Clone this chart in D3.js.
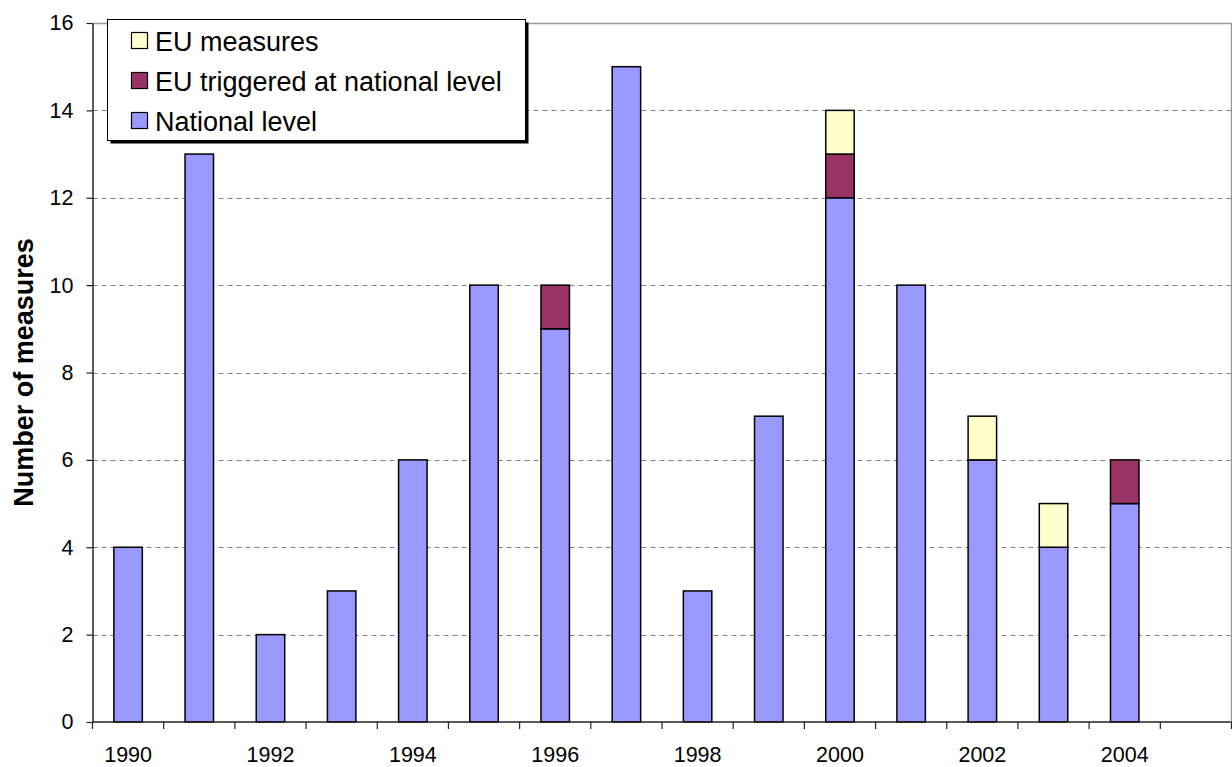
<!DOCTYPE html>
<html>
<head>
<meta charset="utf-8">
<script src="https://cdn.jsdelivr.net/npm/d3@7"></script>
<style>
  html, body { margin: 0; padding: 0; background: #fff; }
  svg { display: block; font-family: Arial, "Liberation Sans", sans-serif; }
</style>
</head>
<body>
<svg id="chart" width="1232" height="767"></svg>
<script>
// Measures adopted per year, split by origin
const years = [1990, 1991, 1992, 1993, 1994, 1995, 1996, 1997, 1998, 1999, 2000, 2001, 2002, 2003, 2004, 2005];
const nationalLevel = [4, 13, 2, 3, 6, 10, 9, 15, 3, 7, 12, 10, 6, 4, 5, 0];
const euTriggered   = [0, 0, 0, 0, 0, 0, 1, 0, 0, 0, 1, 0, 0, 0, 1, 0];
const euMeasures    = [0, 0, 0, 0, 0, 0, 0, 0, 0, 0, 1, 0, 1, 1, 0, 0];
const seriesNames = ["National level", "EU triggered at national level", "EU measures"];
const seriesColors = ["#9999FF", "#993366", "#FFFFCC"];
const yTicks = [0, 2, 4, 6, 8, 10, 12, 14, 16];
const xLabelYears = [1990, 1992, 1994, 1996, 1998, 2000, 2002, 2004];

const svg = d3.select("#chart");
const plotLeft = 92.5, plotRight = 1231.5, plotTop = 23, plotBottom = 722;
const tickFont = 21.5;

const rows = years.map((yr, i) => ({
  year: yr,
  [seriesNames[0]]: nationalLevel[i],
  [seriesNames[1]]: euTriggered[i],
  [seriesNames[2]]: euMeasures[i]
}));
const stacked = d3.stack().keys(seriesNames)(rows);

const x = d3.scaleBand().domain(years).range([plotLeft, plotRight]).paddingInner(0.6).paddingOuter(0.3);
const y = d3.scaleLinear().domain([0, 16]).range([plotBottom, plotTop]);
const color = d3.scaleOrdinal().domain(seriesNames).range(seriesColors);
const gap = (x.step() - x.bandwidth()) / 2;

// dashed gridlines
svg.append("g").selectAll("line")
  .data(yTicks.filter(t => t > 0 && t < 16))
  .join("line")
  .attr("x1", plotLeft).attr("x2", plotRight)
  .attr("y1", d => Math.round(y(d)) + 0.5).attr("y2", d => Math.round(y(d)) + 0.5)
  .attr("stroke", "#808080").attr("stroke-width", 1.2)
  .attr("stroke-dasharray", "5,4");

// plot frame (top and right)
svg.append("path")
  .attr("d", `M${plotLeft},${plotTop + 0.5}H${plotRight}V${plotBottom}`)
  .attr("fill", "none").attr("stroke", "#999").attr("stroke-width", 1.5);

// stacked bars
svg.append("g").selectAll("g")
  .data(stacked)
  .join("g")
  .attr("fill", d => color(d.key))
  .selectAll("rect")
  .data(d => d.filter(s => s[1] - s[0] > 0))
  .join("rect")
  .attr("x", d => x(d.data.year))
  .attr("width", x.bandwidth())
  .attr("y", d => y(d[1]))
  .attr("height", d => y(d[0]) - y(d[1]))
  .attr("stroke", "#000").attr("stroke-width", 1.5);

// y axis
const yAxis = svg.append("g")
  .attr("transform", `translate(${plotLeft},0)`)
  .call(d3.axisLeft(y).tickValues(yTicks).tickSize(6).tickPadding(13).tickSizeOuter(0));
yAxis.select(".domain").attr("stroke", "#222").attr("stroke-width", 1.5);
yAxis.selectAll(".tick line").attr("stroke", "#222").attr("stroke-width", 1.2);
yAxis.selectAll("text").attr("font-size", tickFont).attr("fill", "#000")
  .attr("font-family", "Arial, 'Liberation Sans', sans-serif");

// x axis: labels at category centres, ticks between categories
const xAxis = svg.append("g")
  .attr("transform", `translate(0,${plotBottom})`)
  .call(d3.axisBottom(x).tickValues(xLabelYears).tickSize(0).tickPadding(24.7).tickSizeOuter(0));
xAxis.select(".domain").remove();
xAxis.selectAll("text").attr("font-size", tickFont).attr("fill", "#000")
  .attr("font-family", "Arial, 'Liberation Sans', sans-serif");
svg.append("line")
  .attr("x1", plotLeft).attr("x2", plotRight)
  .attr("y1", plotBottom).attr("y2", plotBottom)
  .attr("stroke", "#222").attr("stroke-width", 1.5);
svg.append("g").selectAll("line")
  .data(years.concat([null]))
  .join("line")
  .attr("x1", d => d === null ? plotRight : x(d) - gap)
  .attr("x2", d => d === null ? plotRight : x(d) - gap)
  .attr("y1", plotBottom).attr("y2", plotBottom + 7)
  .attr("stroke", "#222").attr("stroke-width", 1.2);

// y axis title
svg.append("text")
  .attr("transform", `translate(33,${(plotTop + plotBottom) / 2}) rotate(-90)`)
  .attr("text-anchor", "middle")
  .attr("font-size", 27).attr("font-weight", "bold")
  .text("Number of measures");

// legend
const legend = svg.append("g");
const lx = 107.5, ly = 19.5, lw = 418, lh = 121;
legend.append("rect").attr("x", lx + 3).attr("y", ly + 3).attr("width", lw).attr("height", lh).attr("fill", "#000");
legend.append("rect").attr("x", lx).attr("y", ly).attr("width", lw).attr("height", lh)
  .attr("fill", "#fff").attr("stroke", "#000").attr("stroke-width", 1);
const legendOrder = seriesNames.slice().reverse();
const item = legend.selectAll(".item").data(legendOrder).join("g")
  .attr("transform", (d, i) => `translate(131,${41 + i * 40})`);
item.append("rect").attr("x", 0.5).attr("y", -8.5).attr("width", 16).attr("height", 16)
  .attr("fill", d => color(d)).attr("stroke", "#000").attr("stroke-width", 1.2);
item.append("text").attr("x", 24).attr("y", 9.5)
  .attr("font-size", 27).text(d => d);
</script>
</body>
</html>
